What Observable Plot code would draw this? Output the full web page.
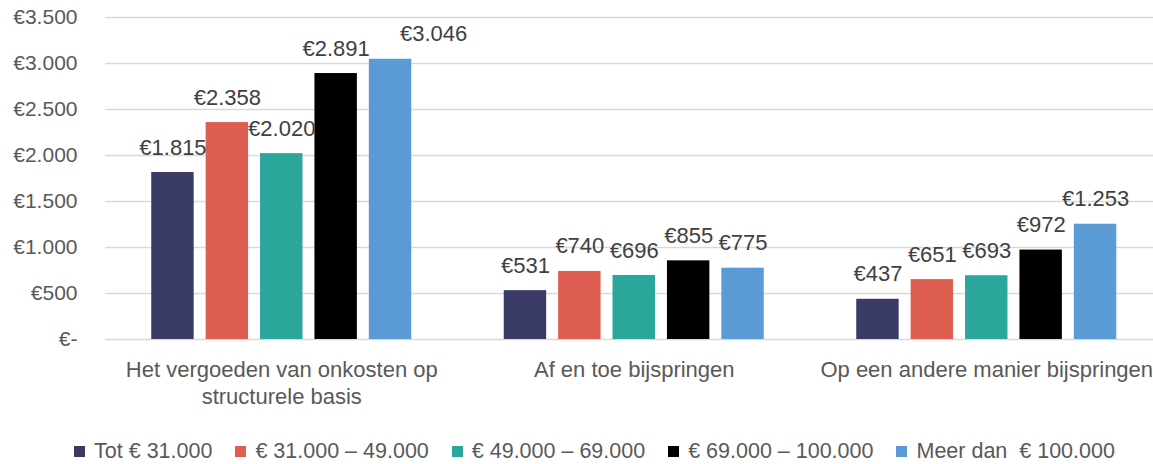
<!DOCTYPE html>
<html>
<head>
<meta charset="utf-8">
<script src="https://cdn.jsdelivr.net/npm/d3@7"></script>
<script src="https://cdn.jsdelivr.net/npm/@observablehq/plot@0.6"></script>
<style>
  html, body { margin: 0; padding: 0; background: #fff; overflow: hidden; }
  body { font-family: "Liberation Sans", Arial, sans-serif; width: 1153px; }
  #legend { display: flex; justify-content: center; gap: 23px; margin-top: 13px; padding-left: 36px;
            font-size: 21.5px; color: #595959; line-height: 26px; }
  #legend .item { display: flex; align-items: center; gap: 9px; white-space: pre; }
  #legend .sw { width: 11px; height: 11px; display: inline-block; }
</style>
</head>
<body>
<div id="chart"></div>
<div id="legend"></div>
<script>
const categories = [
  "Het vergoeden van onkosten op structurele basis",
  "Af en toe bijspringen",
  "Op een andere manier bijspringen"
];
const categoryLabels = [
  "Het vergoeden van onkosten op\nstructurele basis",
  "Af en toe bijspringen",
  "Op een andere manier bijspringen"
];
const series = ["Tot € 31.000", "€ 31.000 – 49.000", "€ 49.000 – 69.000", "€ 69.000 – 100.000", "Meer dan  € 100.000"];
const tot31000 = [1815, 531, 437];
const van31000tot49000 = [2358, 740, 651];
const van49000tot69000 = [2020, 696, 693];
const van69000tot100000 = [2891, 855, 972];
const meerDan100000 = [3046, 775, 1253];
const seriesValues = [tot31000, van31000tot49000, van49000tot69000, van69000tot100000, meerDan100000];
const colors = ["#393B66", "#DE5E52", "#2AA69B", "#000000", "#5A9BD5"];
const yTicks = [0, 500, 1000, 1500, 2000, 2500, 3000, 3500];

const data = [];
series.forEach((s, si) => categories.forEach((c, ci) => data.push({cat: c, series: s, value: seriesValues[si][ci]})));

const euro = v => v === 0 ? "€-" : "€" + d3.format(",")(v).replace(/,/g, ".");
const catLabel = c => categoryLabels[categories.indexOf(c)];
// the label of the last series in the first group is moved aside in the original
const isShifted = d => d.series === series[4] && d.cat === categories[0];

const chart = Plot.plot({
  width: 1153,
  height: 425,
  marginLeft: 105,
  marginRight: 0,
  marginTop: 17,
  marginBottom: 86,
  style: {fontFamily: '"Liberation Sans", Arial, sans-serif', background: "#fff"},
  fx: {domain: categories, range: [105, 1162.5], padding: 0, round: false, label: null},
  x: {domain: series, paddingInner: 0.22, paddingOuter: 0.85, round: false, axis: null},
  y: {domain: [0, 3500], label: null},
  color: {domain: series, range: colors},
  marks: [
    Plot.gridY(yTicks, {stroke: "#d9d9d9", strokeOpacity: 1, strokeWidth: 1.3}),
    Plot.axisY(yTicks, {tickSize: 0, tickPadding: 28, tickFormat: euro, fontSize: 21, fill: "#595959", label: null}),
    Plot.axisFx({anchor: "bottom", tickSize: 0, tickPadding: 19, tickFormat: catLabel, fontSize: 22, lineHeight: 1.2, fill: "#595959", label: null}),
    Plot.barY(data, {fx: "cat", x: "series", y: "value", fill: "series"}),
    Plot.text(data, {filter: d => !isShifted(d), fx: "cat", x: "series", y: "value", text: d => euro(d.value), dy: -25, fontSize: 22, fill: "#404040"}),
    Plot.text(data, {filter: isShifted, fx: "cat", x: "series", y: "value", text: d => euro(d.value), dy: -25, dx: 43, fontSize: 22, fill: "#404040"})
  ]
});
document.getElementById("chart").appendChild(chart);

const legend = document.getElementById("legend");
series.forEach((s, i) => {
  const item = document.createElement("div");
  item.className = "item";
  const sw = document.createElement("span");
  sw.className = "sw";
  sw.style.background = colors[i];
  const t = document.createElement("span");
  t.textContent = s;
  item.appendChild(sw);
  item.appendChild(t);
  legend.appendChild(item);
});
</script>
</body>
</html>
